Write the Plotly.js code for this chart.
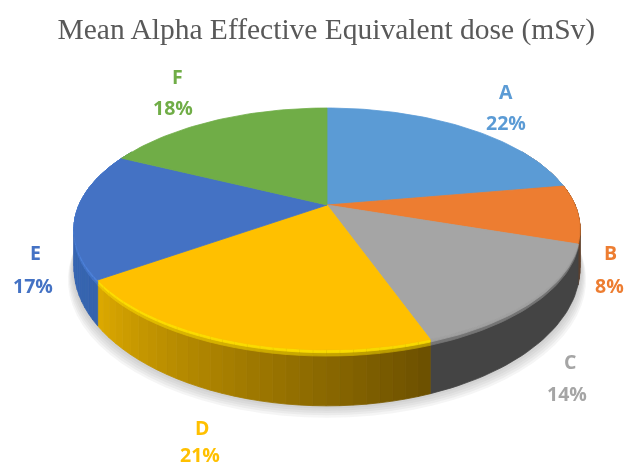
<!DOCTYPE html>
<html><head><meta charset="utf-8">
<script src="https://cdn.plot.ly/plotly-3.0.1.min.js"></script>
<style>html,body{margin:0;padding:0;background:#fff}#chart{width:630px;height:468px;filter:blur(0.5px)}</style>
</head><body><div id="chart"></div>
<script>
const categories = ['A','B','C','D','E','F'];
const values = [22.3,7.8,14.4,20.8,16.9,17.8];
const colors = ['#5B9BD5','#ED7D31','#A5A5A5','#FFC000','#4472C4','#70AD47'];
// wall shading at the start and end of each slice's side
const wallFrom = ['#8A4F20','#7A451C','#444444','#6B5000','#3563AE','#4472C4'];
const wallTo   = ['#8A4F20','#5A4030','#444444','#DDA900','#3A69B8','#4472C4'];
const rimLight = ['#7FB4E6','#A85A22','#A5A5A5','#FFE000','#4F84DC','#70AD47'];
const labelSpots = [[506,91,506,122],[610,252,609,285],[570,361,567,393],[202,427,200,454.5],[35,252,33,285],[177,76,173,107]];

// perspective view of the disc
const view = {cx:327, cy:205, sx:248, sy:116.2, k:0.198, depth:36};
const rad = d => d*Math.PI/180;
function rimPoint(t, off){
  const u=Math.sin(rad(t)), v=Math.cos(rad(t)), w=1+view.k*v;
  return [view.cx+view.sx*u/w, view.cy-view.sy*v/w+(off||0)*view.depth/(w*w)];
}
const hex=c=>[1,3,5].map(i=>parseInt(c.substr(i,2),16));
const mix=(a,b,f)=>{const A=hex(a),B=hex(b);return 'rgb('+A.map((x,i)=>Math.round(x+(B[i]-x)*f)).join(',')+')';};
const toHex=c=>'#'+c.match(/\d+/g).map(n=>(+n).toString(16).padStart(2,'0')).join('');

const traces=[];
const poly=(pts,fill)=>{const c=pts.concat([pts[0]]);traces.push({type:'scatter',mode:'lines',x:c.map(p=>p[0]),y:c.map(p=>p[1]),
  fill:'toself',fillcolor:fill,line:{width:0.8,color:fill},hoverinfo:'skip',showlegend:false});};
const softPoly=(pts,fill)=>traces.push({type:'scatter',mode:'lines',x:pts.map(p=>p[0]),y:pts.map(p=>p[1]),
  fill:'toself',fillcolor:fill,line:{width:0},hoverinfo:'skip',showlegend:false});

// soft shadow under the disc
for(let s=0;s<6;s++){
  const pts=[];
  for(let t=0;t<=360;t+=4){const p=rimPoint(t,1);pts.push([view.cx+(p[0]-view.cx)*(1+(6-s)*0.004),p[1]+(6-s)*2.3-2]);}
  softPoly(pts,'rgba(120,120,120,0.07)');
}
// side wall
const total=values.reduce((a,b)=>a+b,0);
let acc=0;
const spans=values.map(v=>{const a=acc/total*360;acc+=v;return [a,acc/total*360];});
function band(t0,t1,o0,o1,fill){
  const n=Math.max(1,Math.ceil((t1-t0)/1.5)), up=[], down=[];
  for(let j=0;j<=n;j++){const t=t0+(t1-t0)*j/n;up.push(rimPoint(t,o0));down.unshift(rimPoint(t,o1));}
  poly(up.concat(down),fill);
}
spans.forEach((sp,i)=>{
  const a=Math.max(sp[0],60), b=Math.min(sp[1],300);
  if(b<=a) return;
  const n=wallFrom[i]===wallTo[i]?1:Math.max(1,Math.ceil((b-a)/2.5));
  for(let j=0;j<n;j++){
    const t0=a+(b-a)*j/n, t1=a+(b-a)*(j+1)/n, f=(j+0.5)/n;
    band(t0,t1,0,1,mix(wallFrom[i],wallTo[i],f));
  }
});
spans.forEach((sp,i)=>{
  const a=Math.max(sp[0],60), b=Math.min(sp[1],300);
  if(b<=a) return;
  const n=wallFrom[i]===wallTo[i]?1:Math.max(1,Math.ceil((b-a)/2.5));
  for(let j=0;j<n;j++){
    const t0=a+(b-a)*j/n, t1=a+(b-a)*(j+1)/n, f=(j+0.5)/n;
    const hw=toHex(mix(wallFrom[i],wallTo[i],f));
    band(t0,t1,0,0.11,mix(hw,rimLight[i],0.5));
    band(t0,t1,0,0.05,mix(hw,rimLight[i],0.95));
  }
});
// top face slices
spans.forEach((sp,i)=>{
  const pts=[[view.cx,view.cy]];
  const n=Math.ceil((sp[1]-sp[0])/1.5);
  for(let j=0;j<=n;j++) pts.push(rimPoint(sp[0]+(sp[1]-sp[0])*j/n));
  poly(pts,colors[i]);
});

const annotations=[];
categories.forEach((c,i)=>{
  const s=labelSpots[i], font={family:'"Open Sans", sans-serif',size:19.5,color:colors[i]};
  const base={xref:'x',yref:'y',showarrow:false,xanchor:'center',yanchor:'middle',font};
  annotations.push({...base,x:s[0],y:s[1],text:'<b>'+c+'</b>'});
  annotations.push({...base,x:s[2],y:s[3],text:'<b>'+Math.round(values[i])+'%</b>'});
});

Plotly.newPlot('chart',traces,{
  width:630,height:468,margin:{l:0,r:0,t:0,b:0},paper_bgcolor:'#fff',plot_bgcolor:'#fff',showlegend:false,
  title:{text:'Mean Alpha Effective Equivalent dose (mSv)',x:0.518,xanchor:'center',y:0.938,yanchor:'middle',
    font:{family:'"Liberation Serif", serif',size:29.5,color:'#595959'}},
  xaxis:{range:[0,630],visible:false,fixedrange:true},
  yaxis:{range:[468,0],visible:false,fixedrange:true},
  annotations
},{displayModeBar:false,staticPlot:true});
</script></body></html>
